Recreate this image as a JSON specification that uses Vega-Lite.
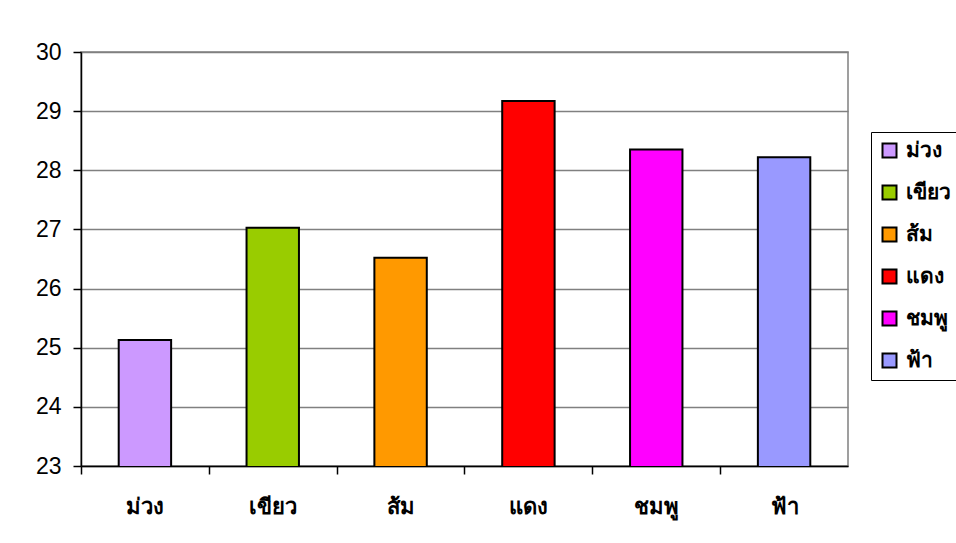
{
  "$schema": "https://vega.github.io/schema/vega-lite/v6.json",
  "autosize": {"type": "none"},
  "padding": {"left": 81, "top": 52, "right": 108, "bottom": 77},
  "width": 767,
  "height": 414,
  "background": "white",
  "config": {
    "view": {"stroke": "#808080", "strokeWidth": 1.5},
    "font": "Liberation Sans",
    "axis": {"ticks": true, "tickColor": "black", "tickSize": 8, "tickWidth": 1.5}
  },
  "data": {
    "values": [
      {"color": "ม่วง", "value": 25.13},
      {"color": "เขียว", "value": 27.03},
      {"color": "ส้ม", "value": 26.52},
      {"color": "แดง", "value": 29.17},
      {"color": "ชมพู", "value": 28.35},
      {"color": "ฟ้า", "value": 28.22}
    ]
  },
  "mark": {"type": "bar", "stroke": "black", "strokeWidth": 2, "clip": true},
  "encoding": {
    "x": {
      "field": "color",
      "type": "nominal",
      "sort": null,
      "scale": {"paddingInner": 0.59, "paddingOuter": 0.295},
      "axis": {
        "title": null,
        "labelAngle": 0,
        "labelFontSize": 22,
        "labelFont": "Noto Sans",
        "labelFontWeight": "bold",
        "labelColor": "black",
        "labelPadding": 22,
        "bandPosition": -0.72,
        "tickOffset": 0,
        "domainColor": "black",
        "domainWidth": 1.5,
        "grid": false
      }
    },
    "y": {
      "field": "value",
      "type": "quantitative",
      "scale": {"domain": [23, 30], "nice": false, "zero": false},
      "axis": {
        "title": null,
        "values": [23, 24, 25, 26, 27, 28, 29, 30],
        "labelFontSize": 23,
        "labelColor": "black",
        "labelPadding": 12,
        "domainColor": "black",
        "domainWidth": 1.5,
        "grid": true,
        "gridColor": "#808080",
        "gridWidth": 1.5,
        "gridOpacity": 1
      }
    },
    "color": {
      "field": "color",
      "type": "nominal",
      "sort": null,
      "scale": {
        "domain": ["ม่วง", "เขียว", "ส้ม", "แดง", "ชมพู", "ฟ้า"],
        "range": ["#CC99FF", "#99CC00", "#FF9900", "#FF0000", "#FF00FF", "#9999FF"]
      },
      "legend": {
        "title": null,
        "orient": "none",
        "legendX": 790,
        "legendY": 80,
        "padding": 8,
        "strokeColor": "black",
        "fillColor": "white",
        "symbolType": "square",
        "symbolSize": 196,
        "symbolStrokeColor": "black",
        "symbolStrokeWidth": 2,
        "symbolOpacity": 1,
        "labelFontSize": 21,
        "labelFont": "Noto Sans",
        "labelFontWeight": "bold",
        "labelColor": "black",
        "labelOffset": 6,
        "rowPadding": 19
      }
    }
  }
}
